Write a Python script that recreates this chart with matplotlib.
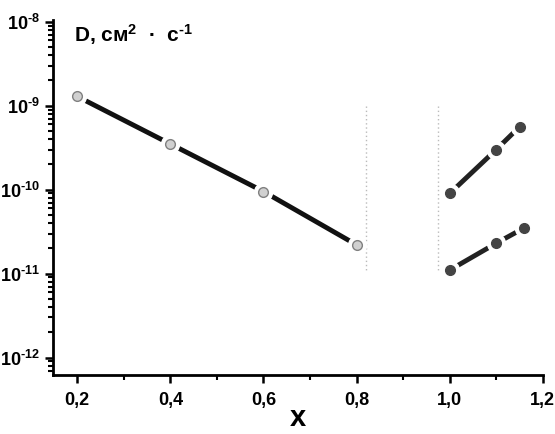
import matplotlib
matplotlib.use("Agg")
import matplotlib.pyplot as plt
from matplotlib.ticker import FixedLocator, FixedFormatter, LogLocator, NullFormatter, MultipleLocator

plt.rcParams['font.family'] = ['Liberation Sans', 'DejaVu Sans']
plt.rcParams['font.weight'] = 'bold'
plt.rcParams['mathtext.fontset'] = 'custom'
plt.rcParams['mathtext.rm'] = 'Liberation Sans:bold'
plt.rcParams['mathtext.default'] = 'regular'

# Data
x1 = [0.2, 0.4, 0.6, 0.8]
d1 = [1.29e-9, 3.5e-10, 9.5e-11, 2.2e-11]
x2 = [1.0, 1.1, 1.15]
d2 = [9.0e-11, 3.0e-10, 5.6e-10]
x3 = [1.0, 1.1, 1.16]
d3 = [1.1e-11, 2.3e-11, 3.5e-11]
vlines_x = [0.82, 0.975]
vline_range = [1.0e-9, 1.05e-11]
xticks = [0.2, 0.4, 0.6, 0.8, 1.0, 1.2]
xtick_labels = ['0,2', '0,4', '0,6', '0,8', '1,0', '1,2']
yticks = [1e-12, 1e-11, 1e-10, 1e-9, 1e-8]
ytick_labels = [r'10$^{\text{-12}}$', r'10$^{\text{-11}}$', r'10$^{\text{-10}}$',
                r'10$^{\text{-9}}$', r'10$^{\text{-8}}$']

fig = plt.figure(figsize=(5.55, 4.34), dpi=100)
ax = fig.add_axes([0.0955, 0.136, 0.8825, 0.818])
ax.set_yscale('log')

for xv in vlines_x:
    ax.plot([xv, xv], vline_range, color='#bbbbbb', lw=1, ls=(0, (1, 2)), zorder=1)

def series(x, y, mfc, mec, lc):
    ax.plot(x, y, color=lc, lw=3.5, solid_capstyle='butt', zorder=2)
    ax.plot(x, y, ls='none', marker='o', ms=13, mfc='white', mec='white', zorder=3)
    ax.plot(x, y, ls='none', marker='o', ms=7, mfc=mfc, mec=mec, mew=1, zorder=4)

series(x1, d1, '#d0d0d0', '#808080', '#111111')
series(x2, d2, '#444444', '#444444', '#222222')
series(x3, d3, '#444444', '#444444', '#222222')

ax.set_xlim(0.148, 1.2)
ax.set_ylim(6.2e-13, 1.05e-8)

ax.xaxis.set_major_locator(FixedLocator(xticks))
ax.xaxis.set_major_formatter(FixedFormatter(xtick_labels))
ax.xaxis.set_minor_locator(MultipleLocator(0.1))
ax.yaxis.set_major_locator(FixedLocator(yticks))
ax.yaxis.set_major_formatter(FixedFormatter(ytick_labels))
ax.yaxis.set_minor_locator(LogLocator(base=10, subs=range(2, 10), numticks=20))
ax.yaxis.set_minor_formatter(NullFormatter())

for s in ['top', 'right']:
    ax.spines[s].set_visible(False)
for s in ['left', 'bottom']:
    ax.spines[s].set_linewidth(2)
ax.tick_params(which='major', direction='out', length=6, width=1.8, labelsize=13)
ax.tick_params(which='minor', direction='out', length=3.5, width=1.5)
ax.tick_params(axis='x', pad=6)
for lab in ax.get_xticklabels() + ax.get_yticklabels():
    lab.set_fontweight('bold')

ax.set_xlabel('x', fontsize=21, fontweight='bold', labelpad=-3)
ax.text(0.043, 0.995, r'D, см$^{2}$  ·  с$^{\text{-1}}$', transform=ax.transAxes,
        fontsize=15, fontweight='bold', va='top', ha='left')

fig.savefig('out.png', dpi=100)
